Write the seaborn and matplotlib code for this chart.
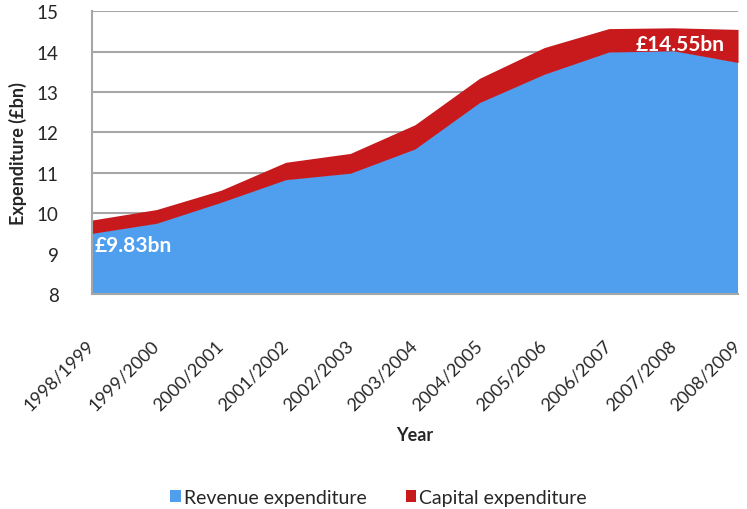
import matplotlib
matplotlib.use("Agg")
import matplotlib.pyplot as plt
from matplotlib.patches import Patch
import numpy as np
import pandas as pd
import seaborn as sns

years = ["1998/1999", "1999/2000", "2000/2001", "2001/2002", "2002/2003",
         "2003/2004", "2004/2005", "2005/2006", "2006/2007", "2007/2008",
         "2008/2009"]
revenue = [9.50, 9.75, 10.27, 10.83, 10.99, 11.59, 12.74, 13.44, 13.99, 14.02, 13.73]
capital = [0.33, 0.34, 0.30, 0.43, 0.49, 0.60, 0.60, 0.66, 0.58, 0.57, 0.82]
y_ticks = [8, 9, 10, 11, 12, 13, 14, 15]

df = pd.DataFrame({"Year": years, "Revenue expenditure": revenue,
                   "Capital expenditure": capital})
df["Total"] = df["Revenue expenditure"] + df["Capital expenditure"]

sns.set_style("white")
plt.rcParams["font.family"] = ["Lato", "DejaVu Sans"]

blue = "#4F9FEE"
red = "#C81A1C"
grid = "#A6A6A6"

fig = plt.figure(figsize=(7.47, 5.10), dpi=100)
ax = fig.add_axes([0.123, 0.4216, 0.865, 0.5544])

x = np.arange(len(df))
ax.fill_between(x, 0, df["Revenue expenditure"], color=blue, linewidth=0, zorder=2)
ax.fill_between(x, df["Revenue expenditure"], df["Total"], color=red, linewidth=0, zorder=2)

ax.set_xlim(0, len(df) - 1)
ax.set_ylim(8, 15)
ax.set_yticks(y_ticks)
ax.set_yticklabels([str(v) for v in y_ticks], fontsize=13.5)
ax.yaxis.grid(True, color=grid, linewidth=1.5, zorder=1)
ax.set_axisbelow(True)

ax.set_xticks(x)
ax.set_xticklabels(df["Year"], rotation=45, ha="right", va="center",
                   rotation_mode="anchor", fontsize=13)
ax.tick_params(axis="x", which="both", direction="out", length=5, width=1.5,
               color=grid, pad=30)
ax.tick_params(axis="y", which="both", direction="out", length=5, width=1.5,
               color=grid, pad=19)

for side in ["top", "right"]:
    ax.spines[side].set_visible(False)
for side in ["left", "bottom"]:
    ax.spines[side].set_color(grid)
    ax.spines[side].set_linewidth(1.5)

ax.set_ylabel("Expenditure (£bn)", fontsize=13, fontweight="bold", labelpad=7)
ax.set_xlabel("Year", fontsize=13, fontweight="bold", labelpad=9)

first_total = df["Total"].iloc[0]
last_total = df["Total"].iloc[-1]
ax.text(0.05, first_total - 0.62, f"£{first_total:.2f}bn", color="white",
        fontsize=15, fontweight="bold", ha="left", va="center", zorder=3)
ax.text(len(df) - 1 - 0.2, last_total - 0.35, f"£{last_total:.2f}bn", color="white",
        fontsize=15, fontweight="bold", ha="right", va="center", zorder=3)

handles = [Patch(facecolor=blue, edgecolor="none", label="Revenue expenditure"),
           Patch(facecolor=red, edgecolor="none", label="Capital expenditure")]
fig.legend(handles=handles, loc="lower center", bbox_to_anchor=(0.507, -0.028),
           ncol=2, frameon=False, fontsize=14, handlelength=0.55,
           handleheight=0.55, handletextpad=0.15, columnspacing=2.0)

fig.savefig("out.png", dpi=100)
